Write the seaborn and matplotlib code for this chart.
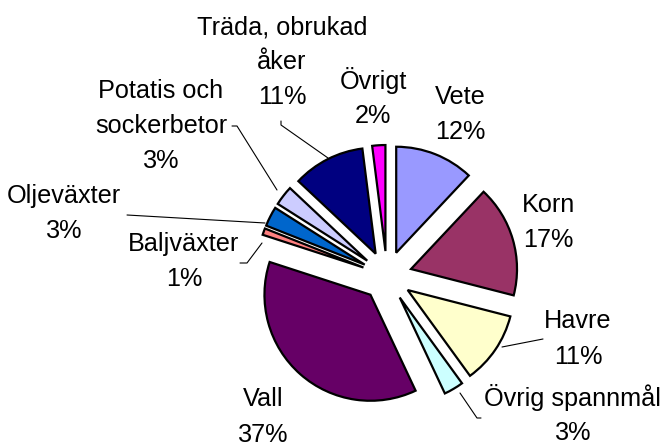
import matplotlib
matplotlib.use("Agg")
import matplotlib.pyplot as plt
import seaborn as sns

# Data (share of arable land, %)
categories = ["Vete", "Korn", "Havre", "Övrig spannmål", "Vall",
              "Baljväxter", "Oljeväxter", "Potatis och\nsockerbetor",
              "Träda, obrukad\nåker", "Övrigt"]
shares = [12, 17, 11, 3, 37, 1, 3, 3, 11, 2]
colors = ["#9999FF", "#993366", "#FFFFCC", "#CCFFFF", "#660066",
          "#FF8080", "#0066CC", "#CCCCFF", "#000080", "#FF00FF"]

sns.set_theme(style="white")
plt.rcParams['font.family'] = ['Liberation Sans', 'DejaVu Sans']

W, H = 664, 448
fig = plt.figure(figsize=(W / 100, H / 100), dpi=100)
ax = fig.add_axes([0, 0, 1, 1])

# explode is in data units (pixels here), not a fraction of the radius
cx, cy, r = 387, H - 276, 106
ax.pie(shares, colors=colors, startangle=90, counterclock=False,
       explode=[25] * len(shares), center=(cx, cy), radius=r,
       wedgeprops=dict(edgecolor="black", linewidth=1.6))

ax.set_xlim(0, W)
ax.set_ylim(0, H)
ax.set_aspect("equal")
ax.axis("off")

# label block centre (pixels from top-left) and optional leader line
label_pos = {
    "Vete": (460, 114, None),
    "Korn": (548, 222, None),
    "Havre": (578, 339, [(543, 339), (502, 347)]),
    "Övrig spannmål": (573, 415, [(460, 393), (477, 418), (481, 418)]),
    "Vall": (263, 417, None),
    "Baljväxter": (184, 261, [(240, 263), (247, 263), (262, 243)]),
    "Oljeväxter": (64, 213, [(127, 215), (265, 223)]),
    "Potatis och\nsockerbetor": (161, 126, [(232, 126), (237, 126), (277, 190)]),
    "Träda, obrukad\nåker": (282, 62, [(281, 121), (281, 125), (328, 158)]),
    "Övrigt": (373, 98, None),
}

step = 35
for name, val in zip(categories, shares):
    x, y, line = label_pos[name]
    rows = name.split("\n") + [f"{val}%"]
    y0 = y - (len(rows) - 1) / 2 * step
    for i, row in enumerate(rows):
        ax.text(x, H - (y0 + i * step), row, ha="center", va="center",
                fontsize=18.2, color="black")
    if line:
        ax.plot([p[0] for p in line], [H - p[1] for p in line],
                color="black", lw=0.8)

fig.savefig("out.png", dpi=100)
